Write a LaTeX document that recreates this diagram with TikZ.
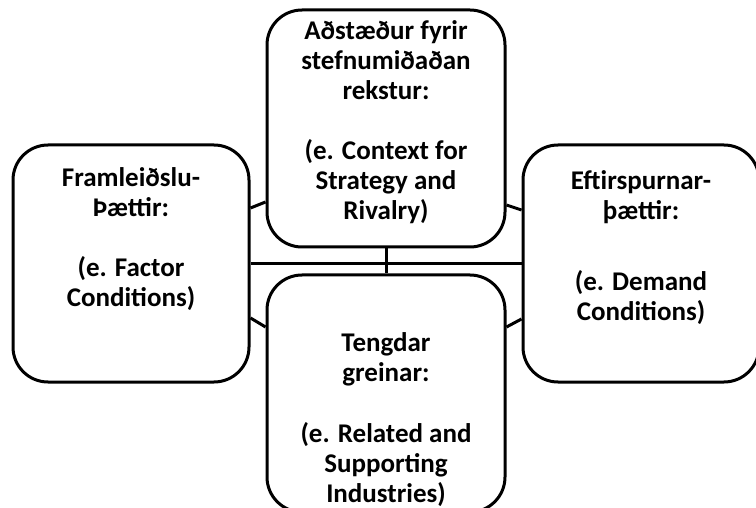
\documentclass[tikz,border=0pt]{standalone}
\usepackage{fontspec}
\setmainfont{Carlito}
\usetikzlibrary{calc}
\begin{document}
\begin{tikzpicture}[x=1pt,y=-1pt,
  box/.style={draw=black,line width=3pt,rounded corners=35pt,fill=white,inner sep=0pt,minimum width=#1,minimum height=237pt},
  box/.default=237pt,
  lbl/.style={align=center,anchor=north,inner sep=0pt,font=\fontsize{27}{30}\selectfont\bfseries},
  conn/.style={line width=3pt,black}]
\useasboundingbox (0,0) rectangle (756,508);
\node[box=236pt] (L) at (131,263.5) {};
\node[box=238pt] (T) at (386,128.5) {};
\node[box=236pt] (R) at (641,263.5) {};
\node[box=238pt] (B) at (386,393.5) {};
\draw[conn] (L.east) -- (R.west);
\draw[conn] (T.south) -- (B.north);
\draw[conn] ([yshift=55.5pt]L.east) -- ([yshift=-73.5pt]T.west);
\draw[conn] ([yshift=-76.5pt]T.east) -- ([yshift=53.5pt]R.west);
\draw[conn] ([yshift=-54.5pt]L.east) -- ([yshift=66.5pt]B.west);
\draw[conn] ([yshift=66.5pt]B.east) -- ([yshift=-55.5pt]R.west);
\node[lbl] (tl) at (386,20) {Aðstæður fyrir\\stefnumiðaðan\\rekstur:\\[30pt](e. Context for\\Strategy and\\Rivalry)};
\node[lbl] (ll) at (131,167.5) {Framleiðslu-\\Þættir:\\[30pt](e. Factor\\Conditions)};
\node[lbl] (rl) at (641,170.5) {Eftirspurnar-\\þættir:\\[41pt](e. Demand\\Conditions)};
\node[lbl] (bl) at (386,332.5) {Tengdar\\greinar:\\[31pt](e. Related and\\Supporting\\Industries)};
\end{tikzpicture}
\end{document}
